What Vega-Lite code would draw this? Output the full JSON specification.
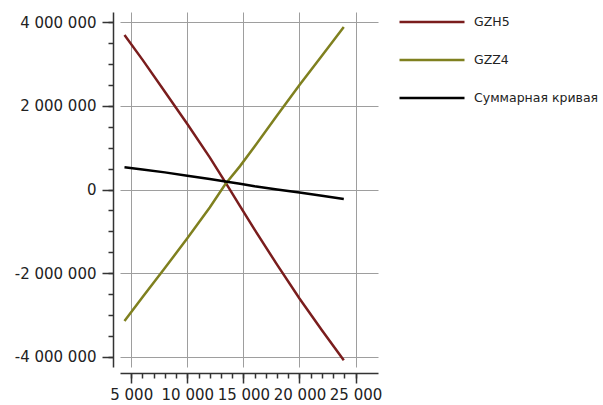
{
  "$schema": "https://vega.github.io/schema/vega-lite/v6.json",
  "width": 258,
  "height": 355,
  "autosize": "none",
  "padding": {"left": 120, "top": 12, "right": 225, "bottom": 38},
  "background": "white",
  "config": {
    "view": {"stroke": null},
    "font": "DejaVu Sans",
    "locale": {"number": {"decimal": ".", "thousands": " ", "grouping": [3], "currency": ["", ""], "minus": "-"}}
  },
  "data": {
    "values": [
      {"x": 4400, "v": 3700000, "series": "GZH5"},
      {"x": 6000, "v": 3110000, "series": "GZH5"},
      {"x": 8000, "v": 2340000, "series": "GZH5"},
      {"x": 10000, "v": 1570000, "series": "GZH5"},
      {"x": 12000, "v": 770000, "series": "GZH5"},
      {"x": 13400, "v": 170000, "series": "GZH5"},
      {"x": 14700, "v": -400000, "series": "GZH5"},
      {"x": 16000, "v": -960000, "series": "GZH5"},
      {"x": 18000, "v": -1800000, "series": "GZH5"},
      {"x": 20000, "v": -2610000, "series": "GZH5"},
      {"x": 22000, "v": -3370000, "series": "GZH5"},
      {"x": 23950, "v": -4090000, "series": "GZH5"},
      {"x": 4400, "v": -3150000, "series": "GZZ4"},
      {"x": 6000, "v": -2580000, "series": "GZZ4"},
      {"x": 8000, "v": -1880000, "series": "GZZ4"},
      {"x": 10000, "v": -1170000, "series": "GZZ4"},
      {"x": 12000, "v": -430000, "series": "GZZ4"},
      {"x": 13400, "v": 130000, "series": "GZZ4"},
      {"x": 14700, "v": 560000, "series": "GZZ4"},
      {"x": 16000, "v": 1030000, "series": "GZZ4"},
      {"x": 18000, "v": 1770000, "series": "GZZ4"},
      {"x": 20000, "v": 2500000, "series": "GZZ4"},
      {"x": 22000, "v": 3200000, "series": "GZZ4"},
      {"x": 23950, "v": 3890000, "series": "GZZ4"},
      {"x": 4400, "v": 530000, "series": "Суммарная кривая"},
      {"x": 6000, "v": 480000, "series": "Суммарная кривая"},
      {"x": 8000, "v": 410000, "series": "Суммарная кривая"},
      {"x": 10000, "v": 330000, "series": "Суммарная кривая"},
      {"x": 12000, "v": 250000, "series": "Суммарная кривая"},
      {"x": 13400, "v": 190000, "series": "Суммарная кривая"},
      {"x": 14700, "v": 140000, "series": "Суммарная кривая"},
      {"x": 16000, "v": 80000, "series": "Суммарная кривая"},
      {"x": 18000, "v": 0, "series": "Суммарная кривая"},
      {"x": 20000, "v": -70000, "series": "Суммарная кривая"},
      {"x": 22000, "v": -150000, "series": "Суммарная кривая"},
      {"x": 23950, "v": -230000, "series": "Суммарная кривая"}
    ]
  },
  "layer": [
    {
      "mark": {"type": "line", "strokeWidth": 2.5, "clip": true},
      "encoding": {
        "x": {
          "field": "x", "type": "quantitative",
          "scale": {"domain": [4000, 27000], "nice": false, "zero": false},
          "axis": {
            "orient": "bottom", "title": null, "offset": 6,
            "values": [5000, 10000, 15000, 20000, 25000], "format": ",d",
            "grid": true, "gridColor": "#9e9e9e", "gridWidth": 1,
            "domainColor": "#333333", "domainWidth": 1.5, "tickColor": "#333333", "tickWidth": 1.5, "tickSize": 10,
            "labelFontSize": 15, "labelColor": "#222222", "labelPadding": 4,
            "labelOverlap": false, "labelFlush": false, "labelBound": false
          }
        },
        "y": {
          "field": "v", "type": "quantitative",
          "scale": {"domain": [-4250000, 4250000], "nice": false, "zero": false},
          "axis": {
            "orient": "left", "title": null, "offset": 7,
            "values": [-4000000, -2000000, 0, 2000000, 4000000], "format": ",d",
            "grid": true, "gridColor": "#9e9e9e", "gridWidth": 1,
            "domainColor": "#333333", "domainWidth": 1.5, "tickColor": "#333333", "tickWidth": 1.5, "tickSize": 11,
            "labelFontSize": 15, "labelColor": "#222222", "labelPadding": 6,
            "labelOverlap": false, "labelFlush": false, "labelBound": false
          }
        },
        "color": {
          "field": "series", "type": "nominal",
          "scale": {"domain": ["GZH5", "GZZ4", "Суммарная кривая"], "range": ["#7a1d1d", "#7f801f", "#000000"]},
          "legend": {
            "title": null, "orient": "right", "offset": 20, "padding": 0,
            "symbolType": "stroke", "symbolSize": 4225, "symbolStrokeWidth": 2.5,
            "clipHeight": 20, "rowPadding": 18,
            "labelFontSize": 12.5, "labelColor": "#222222", "labelOffset": 8
          }
        }
      }
    },
    {
      "mark": {"type": "point", "opacity": 0},
      "encoding": {
        "x": {
          "field": "x", "type": "quantitative",
          "axis": {
            "orient": "bottom", "title": null, "offset": 6,
            "values": [5000, 6000, 7000, 8000, 9000, 10000, 11000, 12000, 13000, 14000, 15000, 16000, 17000, 18000, 19000, 20000, 21000, 22000, 23000, 24000, 25000],
            "labels": false, "domain": false, "grid": false,
            "tickColor": "#333333", "tickWidth": 1.5, "tickSize": 5
          }
        },
        "y": {
          "field": "v", "type": "quantitative",
          "axis": {
            "orient": "left", "title": null, "offset": 7,
            "values": [-4000000, -3500000, -3000000, -2500000, -2000000, -1500000, -1000000, -500000, 0, 500000, 1000000, 1500000, 2000000, 2500000, 3000000, 3500000, 4000000],
            "labels": false, "domain": false, "grid": false,
            "tickColor": "#333333", "tickWidth": 1.5, "tickSize": 5
          }
        }
      }
    }
  ],
  "resolve": {"axis": {"x": "independent", "y": "independent"}}
}
